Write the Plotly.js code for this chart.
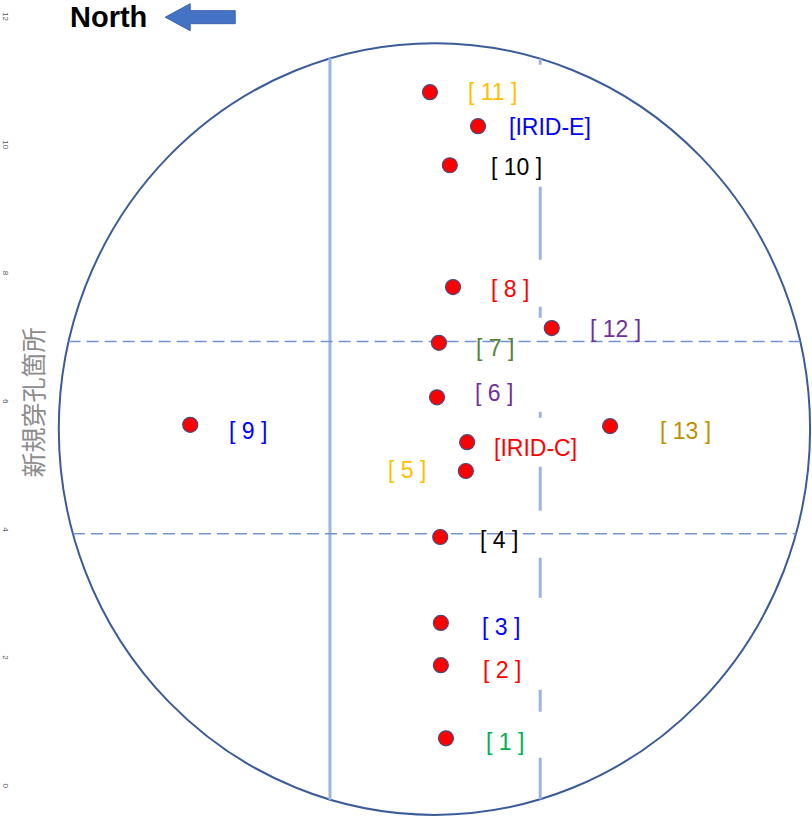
<!DOCTYPE html>
<html><head><meta charset="utf-8">
<script src="https://cdn.plot.ly/plotly-3.0.1.min.js"></script>
<style>html,body{margin:0;padding:0;background:#fff}</style>
</head><body><div id="chart" style="width:812px;height:817px"></div>
<script>
// ---- data ----
const pointLabels = ['[ 11 ]','[IRID-E]','[ 10 ]','[ 8 ]','[ 12 ]','[ 7 ]','[ 6 ]','[IRID-C]','[ 5 ]','[ 13 ]','[ 9 ]','[ 4 ]','[ 3 ]','[ 2 ]','[ 1 ]'];
const pointX = [-0.07, 0.68, 0.24, 0.29, 1.83, 0.07, 0.04, 0.51, 0.49, 2.74, -3.81, 0.09, 0.10, 0.10, 0.18];
const pointY = [10.84, 10.31, 9.70, 7.80, 7.16, 6.93, 6.08, 5.38, 4.93, 5.63, 5.65, 3.90, 2.56, 1.90, 0.76];
const labelColors = ['#FFC000','#0000FF','#000000','#FF0000','#7030A0','#548235','#7030A0','#FF0000','#FFC000','#BF9000','#0000FF','#000000','#0000FF','#FF0000','#00B050'];
const yTickVals = [0, 2, 4, 6, 8, 10, 12];
const yTitle = '新規穿孔箇所';
const northText = 'North';
const circleCenter = [0, 5.585];
const circleRadius = [5.86, 6.02];
const vSolidX = -1.63;
const vDashX = 1.65;
const hDashY = [6.95, 3.95];

// ---- label placement (pixels) ----
const labelDx = [63, 72, 67, 57, 64, 56, 57, 68, -59, 75, 58, 59, 60, 61, 59];
const labelDy = [0, 1, 2, 2, 1, 5, -4, 6, -1, 5, 6, 3, 4, 5, 4];

const [cx, cy] = circleCenter, [rx, ry] = circleRadius;
function halfW(y){ const t=(y-cy)/ry; return rx*Math.sqrt(Math.max(0,1-t*t)); }
function halfH(x){ const t=(x-cx)/rx; return ry*Math.sqrt(Math.max(0,1-t*t)); }

const shapes = [
  {type:'circle', xref:'x', yref:'y', x0:cx-rx, x1:cx+rx, y0:cy-ry, y1:cy+ry,
   line:{color:'#3B5C99', width:2}, fillcolor:'rgba(0,0,0,0)', layer:'below'},
  {type:'line', xref:'x', yref:'y', x0:vSolidX, x1:vSolidX, y0:cy-halfH(vSolidX), y1:cy+halfH(vSolidX),
   line:{color:'#9DB4E0', width:3}, layer:'below'},
  {type:'line', xref:'x', yref:'y', x0:vDashX, x1:vDashX, y0:cy+halfH(vDashX), y1:cy-halfH(vDashX),
   line:{color:'#9DB4E0', width:3, dash:'6px,122px,73px,47px,11px,94px,6px,49px,44px,47px,40px,92px,22px,46px,44px'}, layer:'below'},
  // North arrow (pixel-sized, symmetric about its anchor)
  {type:'path', xref:'x', yref:'y', xsizemode:'pixel', ysizemode:'pixel', xanchor:-4.20, yanchor:12.01,
   path:'M0,0 L25,13.5 L25,6.5 L70,6.5 L70,-6.5 L25,-6.5 L25,-13.5 Z',
   fillcolor:'#4472C4', line:{color:'#3A63AE', width:1}}
];
hDashY.forEach(y => shapes.push({type:'line', xref:'x', yref:'y', x0:cx-halfW(y), x1:cx+halfW(y), y0:y, y1:y,
   line:{color:'#7094D4', width:1.5, dash:'12px,6px'}, layer:'below'}));

const annotations = pointLabels.map((t,i) => ({
  x: pointX[i], y: pointY[i], xref:'x', yref:'y', text:t, showarrow:false,
  xanchor:'center', yanchor:'middle', xshift:labelDx[i], yshift:-labelDy[i],
  font:{family:'Liberation Sans, Arial, sans-serif', size:23, color:labelColors[i]}
}));
annotations.push({
  x:0.025, xref:'paper', y:6.0, yref:'y', text:yTitle, showarrow:false, textangle:-90,
  xanchor:'center', yanchor:'middle',
  font:{family:'Noto Sans CJK JP, sans-serif', size:25, color:'#8C8C8C'}
});
annotations.push({
  x:-5.09, y:12.01, xref:'x', yref:'y', text:'<b>'+northText+'</b>', showarrow:false,
  xanchor:'center', yanchor:'middle',
  font:{family:'Liberation Sans, Arial, sans-serif', size:29, color:'#000000'}
});

const trace = {
  type:'scatter', mode:'markers', x:pointX, y:pointY, text:pointLabels, hoverinfo:'text',
  marker:{color:'#FF0000', size:15, line:{color:'#4A4A7A', width:1.2}}, showlegend:false
};

const layout = {
  width:812, height:817, margin:{l:12, r:0, t:0, b:0},
  paper_bgcolor:'#ffffff', plot_bgcolor:'#ffffff', showlegend:false,
  xaxis:{range:[-6.59, 5.89], visible:false, fixedrange:true},
  yaxis:{range:[-0.468, 12.278], tickvals:yTickVals, ticktext:yTickVals.map(String), tickangle:90,
         showgrid:false, zeroline:false, showline:false, ticks:'', automargin:false,
         tickfont:{family:'Liberation Sans, Arial, sans-serif', size:8, color:'#595959'}},
  shapes, annotations
};
Plotly.newPlot('chart', [trace], layout, {displayModeBar:false, staticPlot:true});
</script></body></html>
